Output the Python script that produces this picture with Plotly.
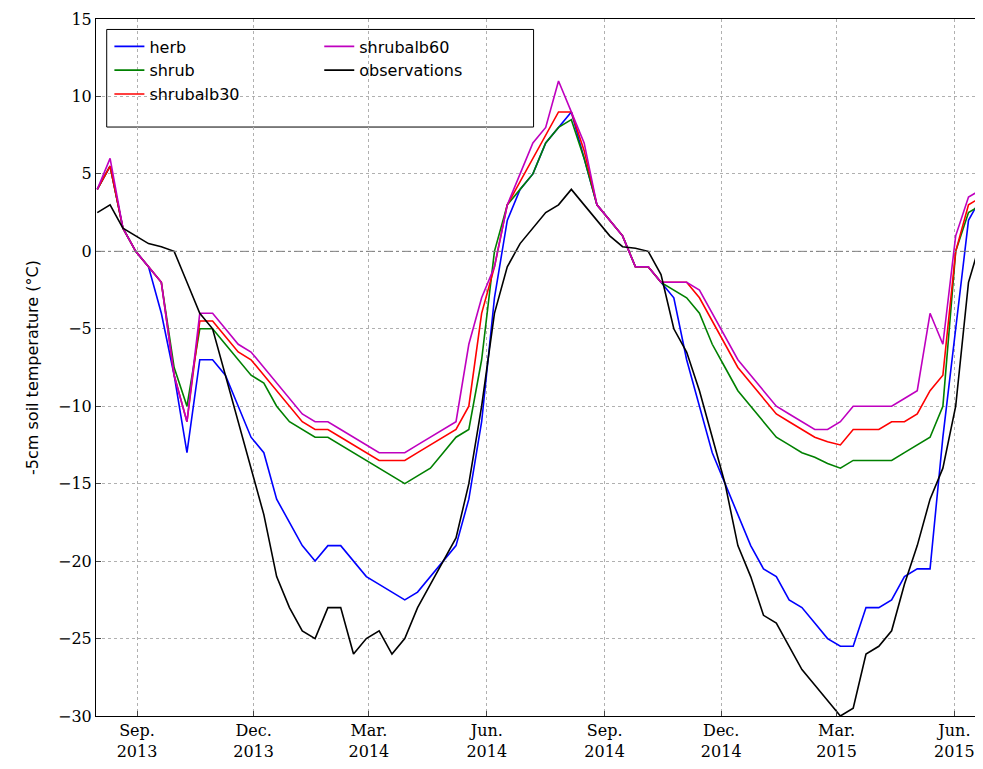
import pandas as pd
import plotly.graph_objects as go

# 10-day samples, starting 2013-08-01
dates = pd.date_range("2013-08-01", periods=71, freq="10D")

herb = [4, 5.5, 1.5, 0, -1, -4, -8, -13, -7, -7,
        -8, -10, -12, -13, -16, -17.5, -19, -20, -19, -19,
        -20, -21, -21.5, -22, -22.5, -22, -21, -20, -19, -16,
        -11, -3, 2, 4, 5, 7, 8, 9, 6, 3,
        2, 1, -1, -1, -2, -3, -7, -10, -13, -15,
        -17, -19, -20.5, -21, -22.5, -23, -24, -25, -25.5, -25.5,
        -23, -23, -22.5, -21, -20.5, -20.5, -12, -5, 2, 3.5, 3.5]
shrub = [4, 5.5, 1.5, 0, -1, -2, -7.5, -10, -5, -5,
         -6, -7, -8, -8.5, -10, -11, -11.5, -12, -12, -12.5,
         -13, -13.5, -14, -14.5, -15, -14.5, -14, -13, -12, -11.5,
         -7, 0, 3, 4, 5, 7, 8, 8.5, 6, 3,
         2, 1, -1, -1, -2, -2.5, -3, -4, -6, -7.5,
         -9, -10, -11, -12, -12.5, -13, -13.3, -13.7, -14, -13.5,
         -13.5, -13.5, -13.5, -13, -12.5, -12, -10, 0, 2.5, 3, 3.5]
shrubalb30 = [4, 5.5, 1.5, 0, -1, -2, -8, -11, -4.5, -4.5,
              -5.5, -6.5, -7, -8, -9, -10, -11, -11.5, -11.5, -12,
              -12.5, -13, -13.5, -13.5, -13.5, -13, -12.5, -12, -11.5, -10,
              -4, -1, 3, 4.5, 6, 7.5, 9, 9, 6.5, 3,
              2, 1, -1, -1, -2, -2, -2, -3, -4.5, -6,
              -7.5, -8.5, -9.5, -10.5, -11, -11.5, -12, -12.3, -12.5, -11.5,
              -11.5, -11.5, -11, -11, -10.5, -9, -8, 0, 3, 3.5, 3.5]
shrubalb60 = [4, 6, 1.5, 0, -1, -2, -8, -11, -4, -4,
              -5, -6, -6.5, -7.5, -8.5, -9.5, -10.5, -11, -11, -11.5,
              -12, -12.5, -13, -13, -13, -12.5, -12, -11.5, -11, -6,
              -3, -1, 3, 5, 7, 8, 11, 9, 7, 3,
              2, 1, -1, -1, -2, -2, -2, -2.5, -4, -5.5,
              -7, -8, -9, -10, -10.5, -11, -11.5, -11.5, -11, -10,
              -10, -10, -10, -9.5, -9, -4, -6, 1, 3.5, 4, 4]
observations = [2.5, 3, 1.5, 1, 0.5, 0.3, 0, -2, -4, -5,
                -8, -11, -14, -17, -21, -23, -24.5, -25, -23, -23,
                -26, -25, -24.5, -26, -25, -23, -21.5, -20, -18.5, -15,
                -10, -4, -1, 0.5, 1.5, 2.5, 3, 4, 3, 2,
                1, 0.3, 0.2, 0, -1.5, -5, -6.5, -9, -12, -15,
                -19, -21, -23.5, -24, -25.5, -27, -28, -29, -30, -29.5,
                -26, -25.5, -24.5, -21.5, -19, -16, -14, -10, -2, 0.8, 1]

tick_dates = ["2013-09-01", "2013-12-01", "2014-03-01", "2014-06-01",
              "2014-09-01", "2014-12-01", "2015-03-01", "2015-06-01"]
tick_labels = ["Sep.<br>2013", "Dec.<br>2013", "Mar.<br>2014", "Jun.<br>2014",
               "Sep.<br>2014", "Dec.<br>2014", "Mar.<br>2015", "Jun.<br>2015"]

series = [
    ("herb", herb, "#0000ff", "legend"),
    ("shrub", shrub, "#008000", "legend"),
    ("shrubalb30", shrubalb30, "#ff0000", "legend"),
    ("shrubalb60", shrubalb60, "#bf00bf", "legend2"),
    ("observations", observations, "#000000", "legend2"),
]

fig = go.Figure()
for name, vals, color, leg in series:
    fig.add_trace(go.Scatter(x=dates, y=vals, name=name, mode="lines",
                             line=dict(color=color, width=1.6), legend=leg))

fig.add_hline(y=0, line=dict(color="gray", width=1, dash="dashdot"))
# legend frame
fig.add_shape(type="rect", xref="paper", yref="paper",
              x0=0.012, x1=0.49, y0=0.845, y1=0.985,
              line=dict(color="black", width=1), fillcolor="white", layer="below")

axis_common = dict(showline=True, linecolor="black", mirror=True, ticks="inside",
                   showgrid=True, gridcolor="#b0b0b0", griddash="dot", zeroline=False,
                   tickfont=dict(family="DejaVu Serif", size=16, color="black"))
fig.update_xaxes(range=["2013-07-31", "2015-06-28"], tickvals=tick_dates,
                 ticktext=tick_labels, **axis_common)
fig.update_yaxes(range=[-30, 15], dtick=5,
                 title=dict(text="-5cm soil temperature (°C)",
                            font=dict(family="DejaVu Sans", size=16, color="black")),
                 **axis_common)

leg_font = dict(family="DejaVu Sans", size=16, color="black")
fig.update_layout(
    width=983, height=769,
    margin=dict(l=88, r=2, t=11, b=61),
    plot_bgcolor="white", paper_bgcolor="white",
    legend=dict(x=0.015, y=0.985, xanchor="left", yanchor="top",
                bgcolor="rgba(0,0,0,0)", font=leg_font, tracegroupgap=0),
    legend2=dict(x=0.25, y=0.985, xanchor="left", yanchor="top",
                 bgcolor="rgba(0,0,0,0)", font=leg_font, tracegroupgap=0),
)

fig.write_html("out.html")
